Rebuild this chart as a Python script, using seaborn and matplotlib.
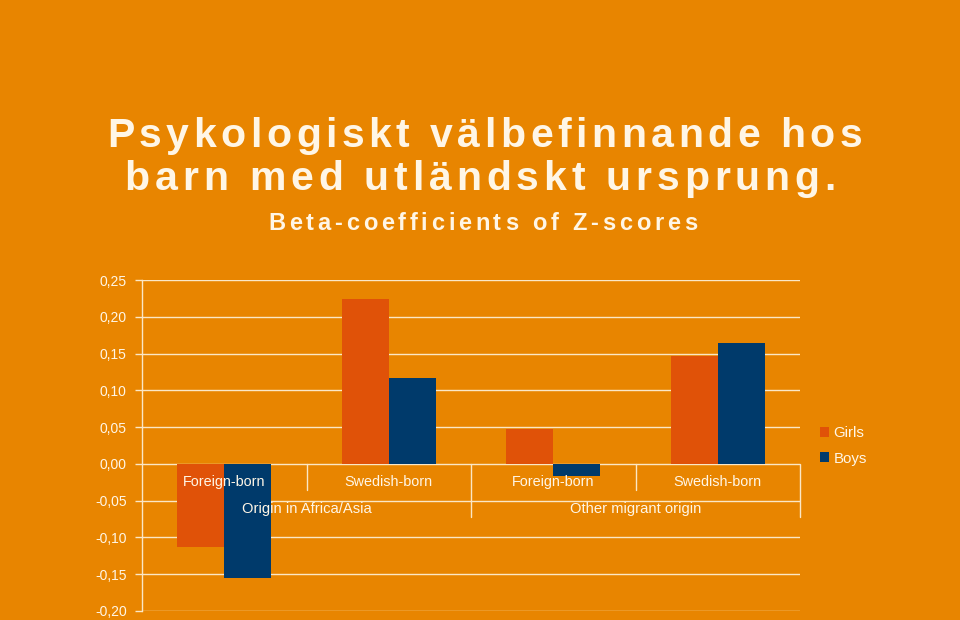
import matplotlib
matplotlib.use("Agg")
import matplotlib.pyplot as plt
from matplotlib.font_manager import FontProperties, findfont
from matplotlib.transforms import IdentityTransform
from matplotlib.patches import Patch
import seaborn as sns
import pandas as pd

# ---- data ----
origins = ["Origin in Africa/Asia", "Origin in Africa/Asia", "Other migrant origin", "Other migrant origin"]
birth = ["Foreign-born", "Swedish-born", "Foreign-born", "Swedish-born"]
girls = [-0.113, 0.224, 0.048, 0.146]
boys = [-0.155, 0.117, -0.016, 0.164]
series = ["Girls", "Boys"]
group_labels = ["Origin in Africa/Asia", "Other migrant origin"]
yticks = [-0.20, -0.15, -0.10, -0.05, 0.00, 0.05, 0.10, 0.15, 0.20, 0.25]
title_lines = ["Psykologiskt välbefinnande hos", "barn med utländskt ursprung."]
subtitle = "Beta-coefficients of Z-scores"

BG = "#E88500"
GIRL = "#E05208"
BOY = "#003A6B"
TXT = "#FFF6E6"
GRID = "#FBE7C6"

cats = [f"{o}|{b}" for o, b in zip(origins, birth)]
df = pd.DataFrame({
    "cat": cats * 2,
    "value": girls + boys,
    "sex": [series[0]] * len(cats) + [series[1]] * len(cats),
})

sns.set_theme(style="white")
plt.rcParams["font.family"] = ["Liberation Sans", "DejaVu Sans"]

fig = plt.figure(figsize=(9.6, 6.2), dpi=100, facecolor=BG)
ax = fig.add_axes([142 / 960, 9 / 620, 658 / 960, 331 / 620])
ax.set_facecolor(BG)

sns.barplot(data=df, x="cat", y="value", hue="sex", order=cats, hue_order=series,
            palette=[GIRL, BOY], width=0.57, gap=0, saturation=1, ax=ax,
            edgecolor="none", linewidth=0, zorder=3)

ax.set_ylim(-0.20, 0.25)
ax.set_xlim(-0.5, 3.5)
ax.set_yticks(yticks)
ax.set_yticklabels([f"{v:.2f}".replace(".", ",").replace("-0,00", "0,00") for v in yticks],
                   color=TXT, fontsize=10)
ax.tick_params(axis="y", length=5, width=1, color=GRID, pad=6, left=True)
ax.set_xticks([])
ax.set_xlabel("")
ax.set_ylabel("")
for s in ["top", "right", "bottom"]:
    ax.spines[s].set_visible(False)
ax.spines["left"].set_color(GRID)
ax.spines["left"].set_linewidth(1)
ax.set_axisbelow(True)
for v in yticks:
    ax.axhline(v, color=GRID, lw=1, zorder=1)

# separators of category axis
for xb in [0.5, 2.5]:
    ax.plot([xb, xb], [0, -0.035], color=GRID, lw=1, zorder=4, clip_on=False)
for xb in [1.5, 3.5]:
    ax.plot([xb, xb], [0, -0.072], color=GRID, lw=1, zorder=4, clip_on=False)

for i, b in enumerate(birth):
    ax.text(i, -0.025, b, ha="center", va="center", color=TXT, fontsize=10.4, zorder=5)
for j, g in enumerate(group_labels):
    ax.text(2 * j + 0.5, -0.061, g, ha="center", va="center", color=TXT, fontsize=10.6, zorder=5)

# legend
ax.legend_.remove()
handles = [Patch(facecolor=GIRL, edgecolor="none"), Patch(facecolor=BOY, edgecolor="none")]
leg = fig.legend(handles, series, loc="center left", bbox_to_anchor=(806 / 960, (620 - 446) / 620),
                 bbox_transform=fig.transFigure, frameon=False, handlelength=0.65, handleheight=0.65,
                 handletextpad=0.3, labelspacing=0.75, fontsize=10.8)
for t in leg.get_texts():
    t.set_color(TXT)

# letter-spaced text helper (figure pixel coords, y from top)
renderer = fig.canvas.get_renderer()

def spaced_text(s, xc, y_top, target_w, prop):
    def w(t):
        return renderer.get_text_width_height_descent(t + "I", prop, ismath=False)[0] - \
            renderer.get_text_width_height_descent("I", prop, ismath=False)[0]
    nat = w(s)
    sp = (target_w - nat) / (len(s) - 1)
    x0 = xc - target_w / 2
    for i, ch in enumerate(s):
        x = x0 + w(s[:i]) + i * sp
        fig.text(x, 620 - y_top, ch, fontproperties=prop, color=TXT, ha="left", va="baseline",
                 transform=IdentityTransform())

try:
    findfont(FontProperties(family="Liberation Sans Narrow", weight="bold"), fallback_to_default=False)
    tfam = "Liberation Sans Narrow"
except Exception:
    tfam = "Liberation Sans"

tprop = FontProperties(family=[tfam, "DejaVu Sans"], weight="bold", size=29.5)
spaced_text(title_lines[0], 484.5, 147, 755, tprop)
spaced_text(title_lines[1], 480, 190, 711, tprop)
sprop = FontProperties(family=["Liberation Sans", "DejaVu Sans"], weight="bold", size=17)
spaced_text(subtitle, 482.5, 230, 429, sprop)

fig.savefig("out.png", dpi=100, facecolor=BG)
